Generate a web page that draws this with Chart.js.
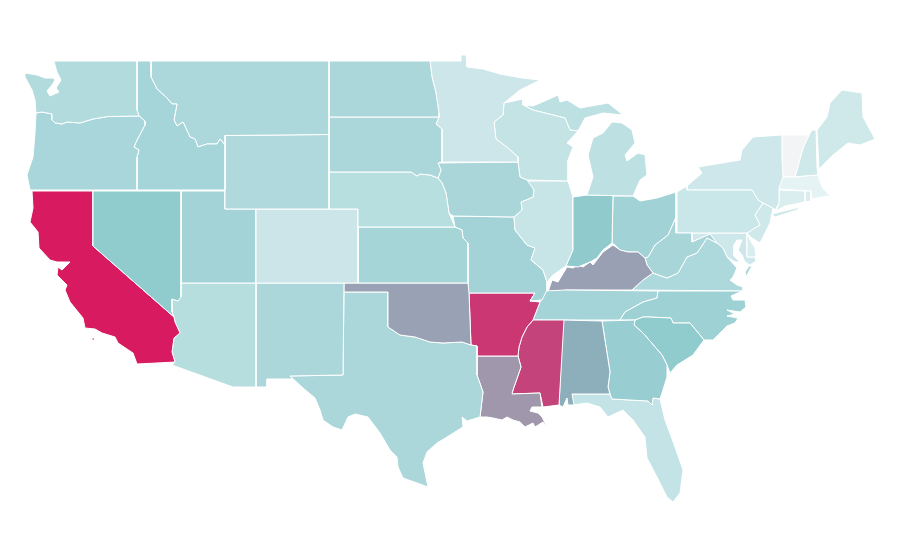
<!DOCTYPE html>
<html>
<head>
<meta charset="utf-8">
<title>US states map</title>
<script src="https://cdn.jsdelivr.net/npm/chart.js@4"></script>
<style>
  html, body { margin: 0; background: #fff; }
  canvas { display: block; }
</style>
</head>
<body>
<canvas id="map" width="900" height="560"></canvas>
<script>
/* ---- shared state borders, in map units ---- */
const idMt = [[137,61],[151,61],[151,77],[157,89],[167,98],[172,104],[177,104],[174,120],[177,126],[183,122],[190,137],[195,139],[198,147],[207,144],[217,144],[220,139],[225,145]];
const orId = [[139,116],[145,121],[145,125],[137,140],[134,147],[139,150],[137,157],[137,190]];
const waOr = [[139,116],[108,116.5],[93,119],[80,123],[67,122],[62,124],[55,123],[52,120],[52,114],[42,112],[36,113]];
const caAz = [[174,317],[175,322],[180,333],[174,338],[172,352],[175,362]];
const nvAz = [[181,297],[178,301],[172,299],[172,312],[174,317]];
const sdIa = [[442,162],[438,163],[441,170],[438,178]];
const neIa = [[438,178],[442,183],[446,193],[449,213],[453,216]];
const mnWi = [[504,103],[503,115],[494,122],[496,139],[508,148],[518,157],[518,162]];
const iaIl = [[518,162],[520,177],[527,180],[534,190],[533,197],[521,202],[522,210],[514,217]];
const moIl = [[514,217],[515,230],[527,245],[535,248],[531,260],[543,270],[547,282]];
const okTx = [[388,292],[388,327],[400,335],[415,337],[430,342],[443,343],[462,342],[471,345],[477,346]];
const arMs = [[533,320],[527,327],[522,337],[519,347],[518,356]];
const laMs = [[518,356],[521,367],[513,390],[512,394],[540,393],[542,407]];
const alGa = [[602,321],[610,372],[608,387],[610,394]];
const gaSc = [[635,320],[634,325],[643,333],[662,355],[667,365]];
const ncSc = [[643,317],[648,317],[671,318],[673,323],[690,323],[704,340]];
const tnNc = [[658,291],[657,298],[643,302],[625,312],[620,320]];
const kyOh = [[612,243],[615,245],[620,250],[628,252],[638,252],[645,258]];
const ohWv = [[645,258],[648,257],[655,245],[668,235],[676,217]];
const wvVa = [[653,273],[667,278],[678,273],[687,257],[697,253],[707,238],[717,243]];
const nyPa = [[687,190],[752,190],[758,200],[763,203]];
const paNj = [[763,203],[755,215],[760,225],[747,233]];
const vtNh = [[809,135],[803,148],[795,177]];

/* ---- state outlines ---- */
const WA = [[54,61],[137,61],[137,110],...waOr,[35,100],[32,90],[25,77],[25,73],[37,75],[45,78],[53,78],[55,80],[52,85],[47,91],[50,96],[59,92],[56,88],[61,80],[57,72],[55,65]];
const OR = [[36,113],...waOr.slice().reverse().slice(1),...orId,[30,190],[27,175],[33,157],[35,133]];
const ID = [...idMt,[225,190],[137,190],...orId.slice().reverse().slice(1),[137,110]];
const MT = [[151,61],[329,61],[329,134.5],[280,135],[225,135.5],...idMt.slice(1).reverse()];
const WY = [[225,135.5],[280,135],[329,134.5],[329,209],[225,209]];
const ND = [[329,61],[430,61],[432,77],[436,93],[439,113],[439,117],[329,117]];
const SD = [[329,117],[439,117],[436,124],[442,129],...sdIa,[430,175],[420,174],[417,176],[411,172],[329,172]];
const NE = [[329,172],[411,172],[417,176],[420,174],[430,175],...neIa.slice(0,4),[455,227],[358,227],[358,209],[329,209]];
const CO = [[256,209],[358,209],[358,283],[256,283]];
const KS = [[358,227],[455,227],[462,230],[463,238],[468,243],[468,283],[358,283]];
const NV = [[93,191],[181,191],...nvAz,[93,246]];
const CA = [[32,191],[93,191],[93,246],...caAz,[157,363],[137,364],[133,353],[118,343],[115,337],[102,333],[95,329],[85,328],[83,318],[70,302],[65,290],[67,285],[57,275],[58,267],[62,270],[70,262],[57,262],[50,260],[39,248],[38,232],[30,222],[33,208]];
const caIsland = [[92,338],[94.5,338],[94.5,340],[92,340]];
const UT = [[181,191],[225,191],[225,209],[256,209],[256,283],[181,283]];
const AZ = [[181,283],[256,283],[256,387],[233,387],[172,365],...caAz.slice().reverse().slice(0,-1),...nvAz.slice().reverse().slice(0,-1)];
const NM = [[256,283],[344,283],[343,375],[290,376],[293,379],[267,379],[267,387],[256,387]];
const OK = [[344,283],[468,283],[469,293],[471,345],...okTx.slice(0,8).reverse().slice(1),[388,292],[344,292]];
const TX = [[344,292],...okTx,[477,375],[483,392],[480,417],[467,421],[462,417],[463,427],[447,437],[437,443],[427,452],[423,463],[428,487],[417,483],[403,478],[398,467],[397,457],[390,450],[380,433],[368,417],[355,414],[348,417],[342,430],[333,427],[323,420],[320,410],[315,398],[303,388],[290,376],[343,375]];
const MN = [[430,61],[461,61],[461,55],[466,55],[467,67],[483,69],[500,74],[522,78],[540,80],[520,90],...mnWi,[442,162],[442,129],[436,124],[439,117],[439,113],[436,93],[432,77]];
const IA = [...iaIl,[453,216],...neIa.slice(0,4).reverse(),...sdIa.slice(0,3).reverse().slice(0,-1)];
const WI = [[504,103],[523,99],[523,105],[533,110],[565,118],[570,130],[578,131],[567,143],[573,147],[568,160],[568,181],[527,180],[520,177],[518,162],...mnWi.slice(0,-1).reverse().slice(0,-1)];
const MI_up = [[524,105],[533,106],[547,100],[558,95],[560,102],[567,100],[580,108],[608,103],[623,115],[603,113],[585,118],[578,131],[570,130],[565,118],[533,110]];
const MI_low = [[587,195],[633,196],[640,180],[647,175],[645,155],[638,153],[627,161],[625,155],[635,143],[632,130],[622,123],[612,122],[603,133],[593,138],[588,155],[593,177]];
const IN = [[573,197],[587,195],[613,195],[612,243],[603,250],[597,258],[590,262],[578,267],[566,266],[573,250]];
const IL = [[527,181],[568,181],[573,197],[573,250],[566,266],[553,275],...moIl.slice().reverse(),...iaIl.slice(3,8).reverse().slice(1)];
const MO = [[453,216],...moIl,[547,290],[542,300],[530,301],[535,293],[468,293],[468,243],[463,238],[462,230],[455,227]];
const AR = [[469,293],[535,293],[530,301],[540,302],...arMs,[477,356],[477,346],[471,345]];
const LA = [[477,356],...laMs,[532,407],[530,411],[538,413],[542,417],[548,429],[543,422],[535,427],[533,423],[525,427],[520,422],[513,420],[507,417],[502,420],[493,418],[487,417],[480,417],[483,392],[477,375]];
const MS = [[533,320],[564,320],[559,405],[543,407],...laMs.slice().reverse().slice(1),[519,347],[522,337],[527,327]];
const AL = [[563,320],...alGa,[572,394],[574,405],[568,405],[567,398],[563,407],[559,405]];
const GA = [...alGa,[612,399],[648,401],[652,405],[653,398],[660,399],[662,393],[667,377],...gaSc.slice().reverse()];
const FL = [[572,394],[610,394],[612,399],[648,401],[652,405],[653,398],[660,399],[665,420],[675,447],[683,470],[680,493],[673,502],[667,497],[657,477],[647,458],[645,437],[633,420],[623,410],[608,417],[600,407],[587,403],[573,405]];
const SC = [...gaSc,[670,373],[677,365],[693,355],[704,340],...ncSc.slice().reverse().slice(1)];
const NC = [[620,320],[635,320],...ncSc,[713,340],[727,326],[735,323],[738,318],[727,316],[735,314],[727,310],[740,312],[746,307],[745,300],[733,300],[731,296],[742,291],[667,291],...tnNc];
const TN = [[545,291],[565,290],...tnNc,[563,320],[533,320],[540,302]];
const KY = [[548,292],[552,280],[558,282],[567,267],[573,268],[578,265],[583,267],[590,262],[593,265],[603,252],[613,245],[620,250],[628,252],[638,252],[645,258],[647,265],[653,273],[643,280],[632,290],[565,290],[565,292]];
const OH = [[613,196],[633,196],[640,201],[657,198],[676,192],[676,217],...ohWv.slice().reverse().slice(1),...kyOh.slice().reverse().slice(1)];
const WV = [[676,217],[676,233],[692,233],[692,242],[710,234],[717,243],...wvVa.slice().reverse().slice(1),[647,265],...ohWv.slice(0,4)];
const VA = [[632,290],[643,280],...wvVa,[723,248],[727,257],[737,268],[733,277],[730,280],[737,285],[743,287],[743,291]];
const vaTip = [[749,266],[752,266],[746,277],[745,272]];
const PA = [[677,192],[687,186],...nyPa,...paNj.slice(1),[677,233]];
const NY = [...nyPa,[773,208],[775,210],[779,203],[779,188],[783,177],[782,157],[782,135],[753,137],[742,150],[740,160],[698,167],[702,173],[687,186]];
const longIsland = [[772,214],[800,207],[797,210],[775,217]];
const NJ = [[763,203],[773,208],[772,213],[770,223],[760,243],[752,238],[747,233],[760,225],[755,215]];
const DE = [[747,233],[750,240],[755,248],[756,257],[747,257]];
const MD = [[692,233],[747,233],[747,257],[755,257],[756,261],[750,265],[745,262],[742,255],[738,250],[742,240],[737,240],[734,245],[734,256],[740,262],[735,262],[727,257],[723,248],[717,243],[710,234],[692,242]];
const CT = [[779,190],[805,191],[805,202],[785,206],[776,211],[779,203]];
const RI = [[805,191],[811,191],[811,201],[805,202]];
const MA = [[781,177],[795,177],[818,175],[822,187],[830,196],[822,197],[812,199],[811,191],[779,189]];
const VT = [[782,135],[809,135],[803,148],[795,177],[783,177],[782,157]];
const NH = [[812,130],[816,130],[817,168],[818,175],[795,177],...vtNh.slice(0,2).reverse()];
const ME = [[817,130],[827,117],[830,103],[842,90],[862,93],[863,117],[875,139],[860,145],[848,143],[833,155],[819,169]];

const stateOutlines = [WA, OR, ID, MT, WY, ND, SD, NE, CO, KS, NV, CA, caIsland, UT, AZ, NM, OK, TX, MN, IA, WI, MI_up, MI_low, IN, IL, MO, AR, LA, MS, AL, GA, FL, SC, NC, TN, KY, OH, WV, VA, vaTip, PA, NY, longIsland, NJ, DE, MD, CT, RI, MA, VT, NH, ME];
const stateColors = ['#b2dbde', '#a9d6da', '#a5d5d8', '#add8db', '#afd9dc', '#acd7da', '#acd7da', '#b8dfdf', '#cce5e9', '#a6d5d8', '#90cbce', '#d81b60', '#d81b60', '#a3d3d6', '#b7dede', '#abd7da', '#99a1b4', '#abd7da', '#cce6ea', '#aad6d9', '#c4e3e5', '#bde0e2', '#bde0e2', '#90cacd', '#c7e5e7', '#a3d3d6', '#cb3773', '#a097ac', '#c4437a', '#8dafbc', '#98ced1', '#c3e3e6', '#90cbcd', '#9ed1d4', '#a4d4d7', '#9aa0b4', '#a1d2d5', '#a7d5d8', '#aed9dc', '#aed9dc', '#c9e6e9', '#cee7ea', '#cee7ea', '#cfe8ea', '#d8edef', '#cde7ea', '#daeef0', '#daeef0', '#e6f3f5', '#f3f4f6', '#cfe8ea', '#cfe8ea'];

const datasets = stateOutlines.map((outline, i) => {
  const closed = [...outline, outline[0]];
  return {
    data: closed.map(([x, y]) => ({ x, y })),
    showLine: true,
    fill: 'shape',
    backgroundColor: stateColors[i],
    borderColor: '#ffffff',
    borderWidth: 1,
    borderJoinStyle: 'round',
    pointRadius: 0,
    tension: 0,
  };
});

new Chart(document.getElementById('map'), {
  type: 'scatter',
  data: { datasets },
  options: {
    responsive: false,
    animation: false,
    layout: { padding: 0 },
    plugins: { legend: { display: false }, tooltip: { enabled: false } },
    scales: {
      x: { type: 'linear', min: 0, max: 900, display: false },
      y: { type: 'linear', min: 0, max: 560, reverse: true, display: false },
    },
  },
});
</script>
</body>
</html>
